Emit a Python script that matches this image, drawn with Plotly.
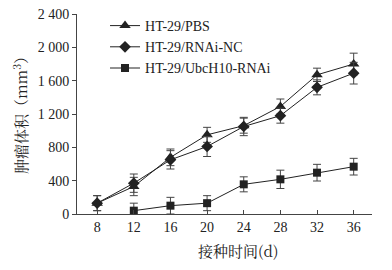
import plotly.graph_objects as go

days = [8, 12, 16, 20, 24, 28, 32, 36]
pbs = [130, 330, 680, 950, 1060, 1290, 1670, 1800]
pbs_err = [90, 110, 100, 90, 90, 90, 80, 130]
nc = [130, 370, 650, 810, 1050, 1180, 1520, 1690]
nc_err = [90, 110, 110, 120, 110, 90, 90, 130]
ubc_days = [12, 16, 20, 24, 28, 32, 36]
ubc = [40, 100, 130, 356, 416, 496, 568]
ubc_err = [90, 100, 90, 90, 110, 100, 100]

y_ticks = [0, 400, 800, 1200, 1600, 2000, 2400]
y_labels = ["0", "400", "800", "1 200", "1 600", "2 000", "2 400"]
x_ticks = [8, 12, 16, 20, 24, 28, 32, 36]
x_title = "接种时间(d)"
y_title = "肿瘤体积（mm<sup>3</sup>）"

series = [
    ("HT-29/PBS", days, pbs, pbs_err, "triangle-up", 10),
    ("HT-29/RNAi-NC", days, nc, nc_err, "diamond", 9),
    ("HT-29/UbcH10-RNAi", ubc_days, ubc, ubc_err, "square", 8),
]

fig = go.Figure()
for name, x, y, e, sym, sz in series:
    fig.add_trace(go.Scatter(
        x=x, y=y, name=name, mode="lines+markers",
        line=dict(color="#222", width=1),
        marker=dict(symbol=sym, size=sz, color="#222"),
        error_y=dict(type="data", array=e, visible=True, color="#444",
                     thickness=1, width=4),
    ))

font = "Liberation Serif, Noto Sans CJK SC, serif"
cjk = "Noto Serif CJK SC, Noto Sans CJK SC"
fig.update_layout(
    width=392, height=270,
    margin=dict(l=77, r=20, t=14, b=56, autoexpand=False),
    paper_bgcolor="white", plot_bgcolor="white",
    font=dict(family=font, size=14, color="#222"),
    showlegend=True,
    legend=dict(x=0.095, y=1.02, xanchor="left", yanchor="top",
                bgcolor="rgba(0,0,0,0)", font=dict(size=14),
                tracegroupgap=0, itemwidth=30),
    xaxis=dict(range=[5.8, 38], tickvals=x_ticks, ticktext=[str(v) for v in x_ticks],
               showline=True, linecolor="#444", linewidth=1, showgrid=False,
               zeroline=False, ticks="inside", ticklen=4, tickcolor="#444",
               automargin=False),
    yaxis=dict(range=[0, 2400], tickvals=y_ticks, ticktext=y_labels,
               showline=True, linecolor="#444", linewidth=1, showgrid=False,
               zeroline=False, ticks="outside", ticklen=4, tickcolor="#444",
               automargin=False),
    annotations=[
        dict(text=x_title, xref="paper", yref="paper", x=0.546, y=-0.18,
             xanchor="center", yanchor="middle", showarrow=False,
             font=dict(size=15, family=cjk, color="#222")),
        dict(text=y_title, xref="paper", yref="paper", x=-0.193, y=0.51,
             xanchor="center", yanchor="middle", showarrow=False, textangle=-90,
             font=dict(size=15, family=cjk, color="#222")),
    ],
)
fig.write_html("out.html", config={"displayModeBar": False},
               post_script="document.body.style.margin='0';")
